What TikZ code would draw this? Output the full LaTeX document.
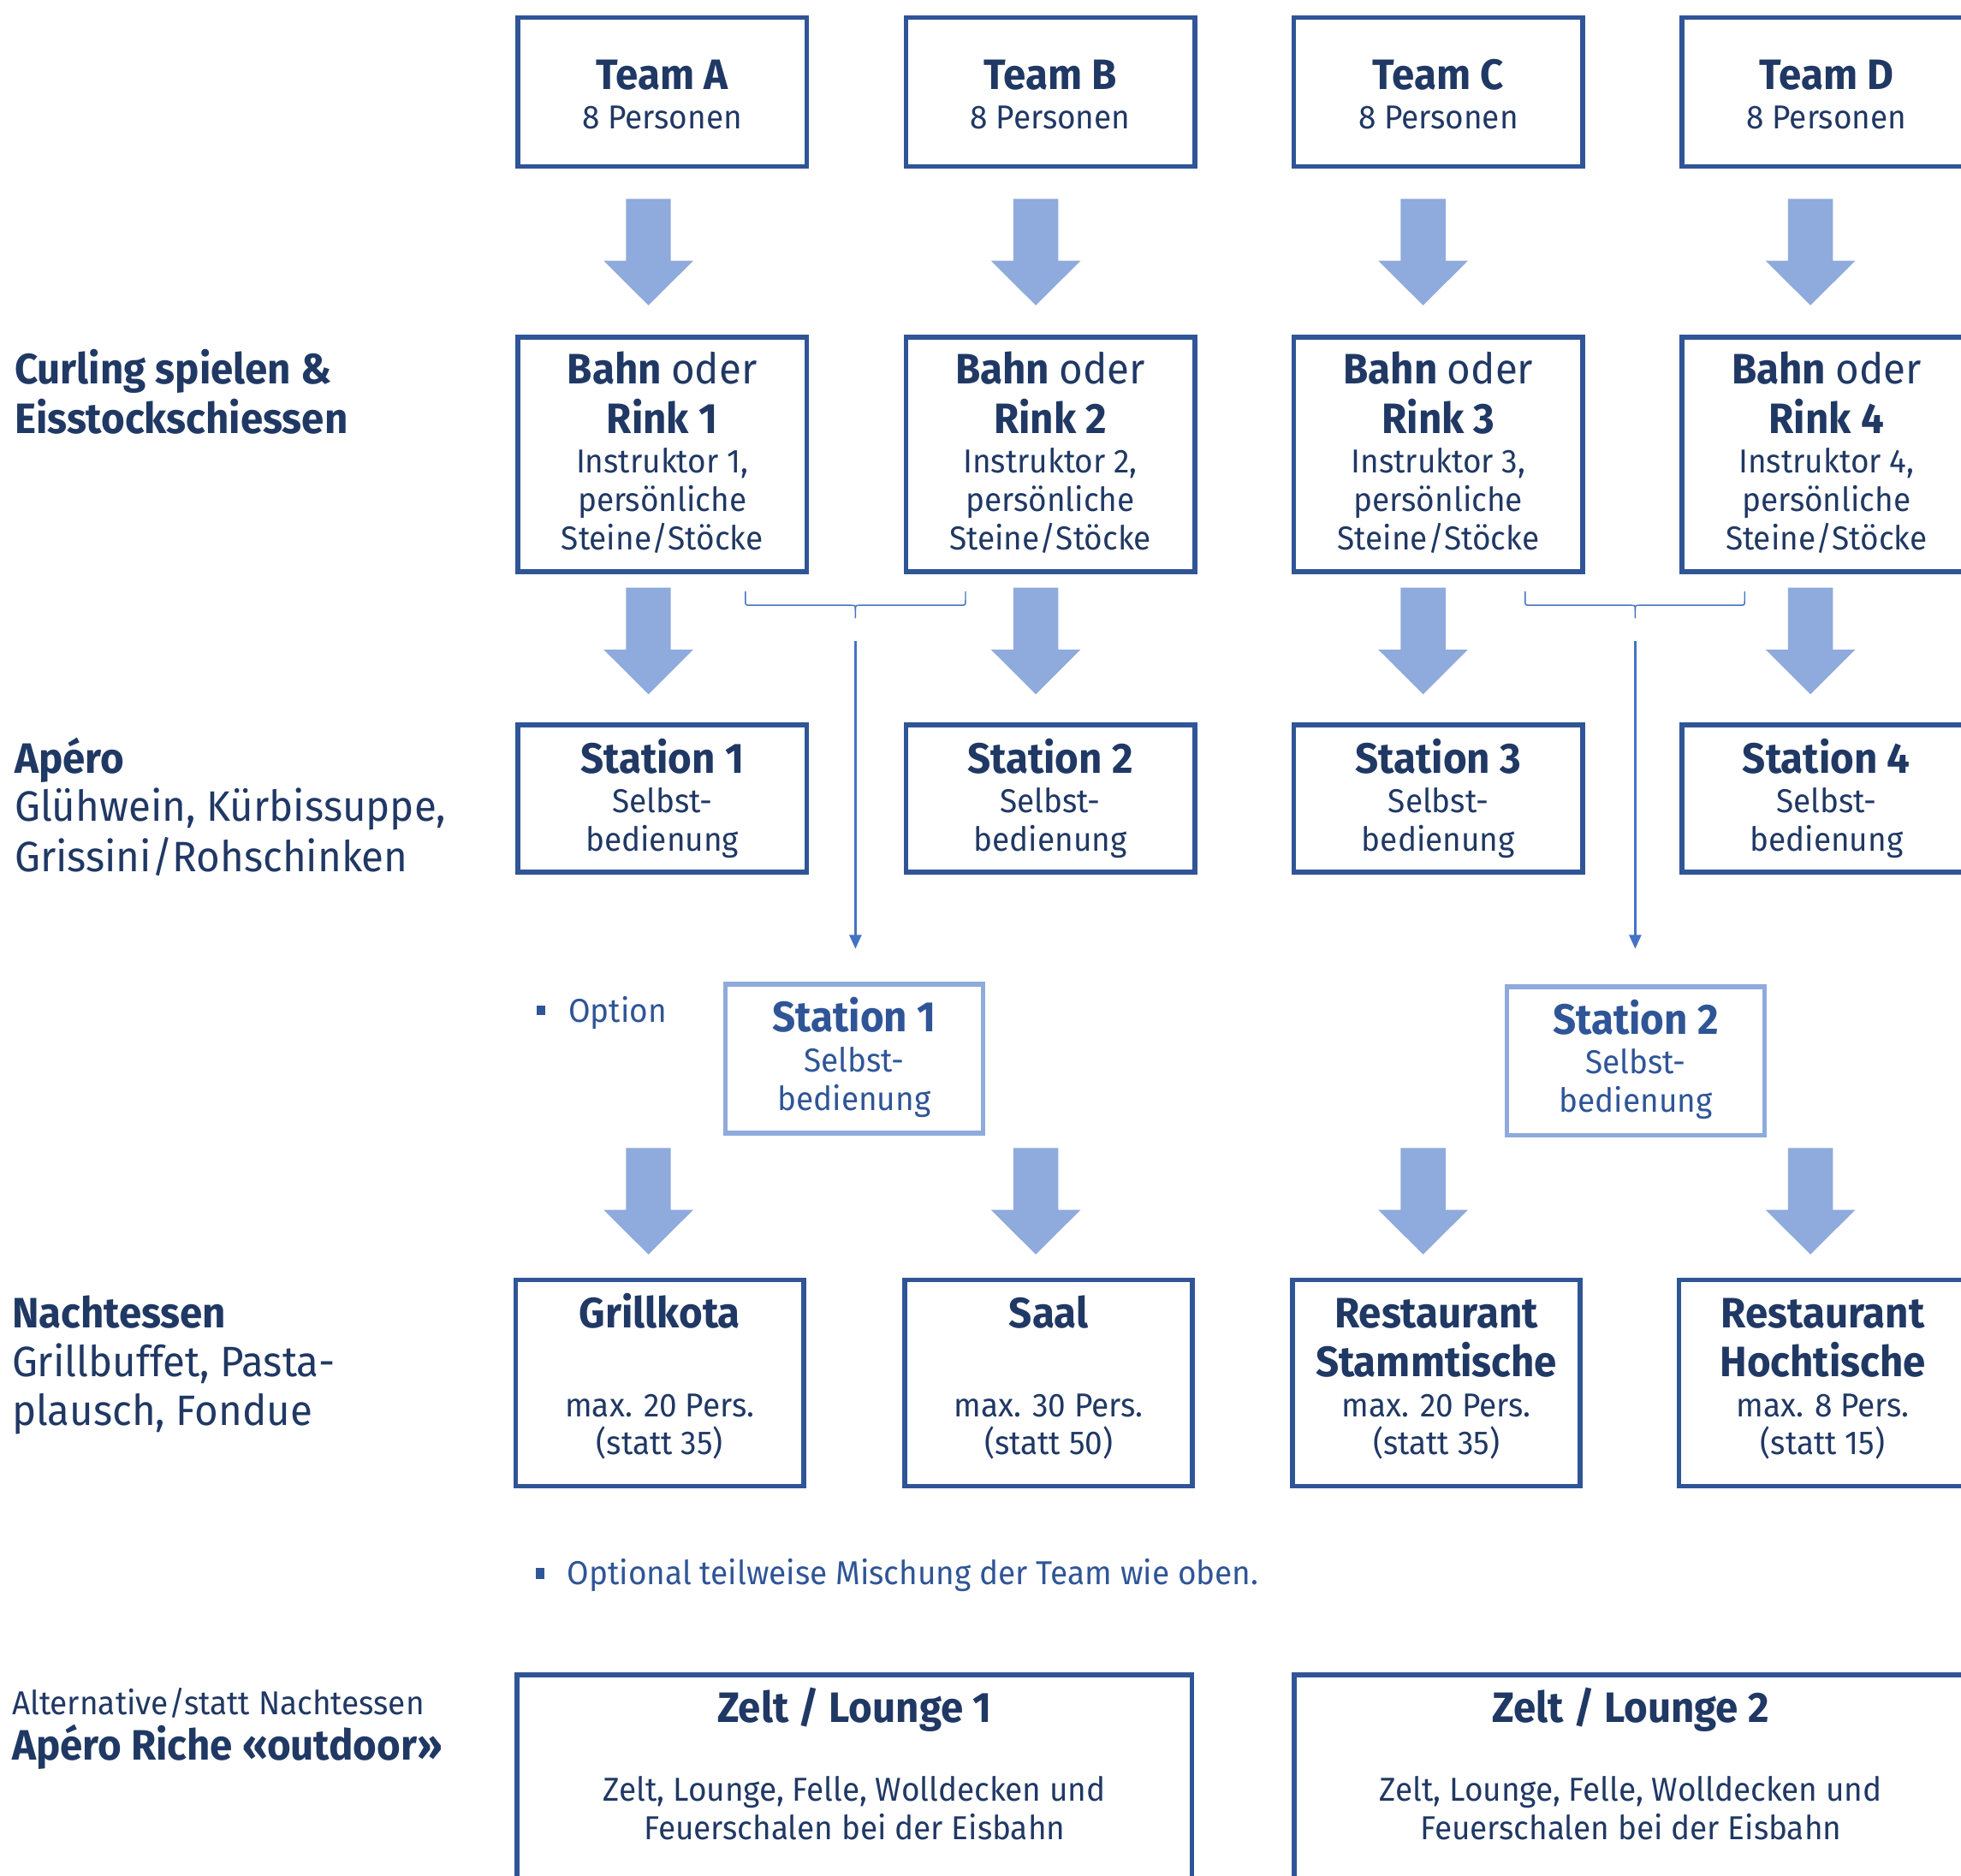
\documentclass[tikz,border=0pt]{standalone}
\usepackage{fontspec}
\setmainfont{Fira Sans}[FakeStretch=0.955]
\usetikzlibrary{arrows.meta}
\definecolor{navy}{HTML}{203864}
\definecolor{boxblue}{HTML}{2F5597}
\definecolor{arrowfill}{HTML}{8FAADC}
\definecolor{linkblue}{HTML}{4472C4}
\newcommand\BigTxt{\fontsize{34}{40}\selectfont\bfseries}
\newcommand\BigReg{\fontsize{34}{40}\selectfont}
\newcommand\SmallTxt{\fontsize{26.5}{31}\selectfont}
\begin{document}
\begin{tikzpicture}[x=1pt,y=-1pt,
  box/.style={draw=boxblue,line width=3.8pt,inner sep=0pt},
  optbox/.style={draw=arrowfill,line width=3.8pt,minimum width=206pt,minimum height=119pt,inner sep=0pt},
  T/.style={inner sep=0pt,anchor=base,text=navy,font=\BigTxt},
  S/.style={inner sep=0pt,anchor=base,text=navy,font=\SmallTxt},
  OT/.style={T,text=boxblue},
  OS/.style={S,text=boxblue},
  LT/.style={inner sep=0pt,anchor=base west,text=navy,font=\BigTxt},
  LR/.style={inner sep=0pt,anchor=base west,text=navy,font=\BigReg},
  LS/.style={inner sep=0pt,anchor=base west,text=navy,font=\SmallTxt},
  bracket/.style={draw=linkblue,line width=1pt},
  thinarrow/.style={draw=linkblue,line width=1.5pt,-{Triangle[length=11pt,width=9.6pt]}},
  blockarrow/.pic={\fill[arrowfill] (-17.9,0) -- (17.9,0) -- (17.9,49.5) -- (35.8,49.5) -- (0,85.2) -- (-35.8,49.5) -- (-17.9,49.5) -- cycle;}
]
\useasboundingbox (0,0) rectangle (1568,1500.2);
\clip (0,0) rectangle (1568,1500.2);

% left labels
\node[LT] (l1a) at (11.5,307) {Curling spielen \&};
\node[LT] (l1b) at (11.5,346.8) {Eisstockschiessen};
\node[LT] (l2a) at (11.5,618.1) {Apéro};
\node[LR] (l2b) at (11.5,656.6) {Glühwein, Kürbissuppe,};
\node[LR] (l2c) at (11.5,697) {Grissini/Rohschinken};
\node[LT] (l3a) at (9.4,1061.8) {Nachtessen};
\node[LR] (l3b) at (9.4,1101.1) {Grillbuffet, Pasta-};
\node[LR] (l3c) at (9.4,1140.1) {plausch, Fondue};
\node[LS] (l4a) at (9.4,1371.3) {Alternative/statt Nachtessen};
\node[LT] (l4b) at (9.4,1407.5) {Apéro Riche «outdoor»};

% columns
\foreach \L/\n in {A/1,B/2,C/3,D/4}{
  \pgfmathsetmacro\cx{529.5+310.3*(\n-1)}
  \pgfmathsetmacro\ax{518.5+309.7*(\n-1)}
  \node[box,minimum width=231pt,minimum height=119pt] (team\L) at (\cx,73.5) {};
  \node[T] (team\L-t) at (\cx,71.8) {Team \L};
  \node[S] (team\L-s) at (\cx,103.3) {8 Personen};
  \pic at (\ax,159) {blockarrow};
  \node[box,minimum width=231pt,minimum height=187.5pt] (bahn\L) at (\cx,363.25) {};
  \node[T] (bahn\L-a) at (\cx,307) {Bahn \textmd{oder}};
  \node[T] (bahn\L-b) at (\cx,346.8) {Rink \n};
  \node[S] (bahn\L-c) at (\cx,378.2) {Instruktor \n,};
  \node[S] (bahn\L-d) at (\cx,408.8) {persönliche};
  \node[S] (bahn\L-e) at (\cx,440) {Steine/Stöcke};
  \pic at (\ax,470) {blockarrow};
  \node[box,minimum width=231pt,minimum height=118pt] (stat\L) at (\cx,638.5) {};
  \node[T] (stat\L-a) at (\cx,618.1) {Station \n};
  \node[S] (stat\L-b) at (\cx,649.6) {Selbst-};
  \node[S] (stat\L-c) at (\cx,680.7) {bedienung};
  \pic at (\ax,918) {blockarrow};
}

% brackets and thin arrows
\draw[bracket] (596,473) -- (596,480) .. controls (596,484) .. (600,484) -- (680,484) .. controls (684,484) .. (684,488) -- (684,494.4);
\draw[bracket] (684,488) .. controls (684,484) .. (688,484) -- (768,484) .. controls (772,484) .. (772,480) -- (772,473);
\draw[bracket] (1219.5,473) -- (1219.5,480) .. controls (1219.5,484) .. (1223.5,484) -- (1303.5,484) .. controls (1307.5,484) .. (1307.5,488) -- (1307.5,494.4);
\draw[bracket] (1307.5,488) .. controls (1307.5,484) .. (1311.5,484) -- (1391,484) .. controls (1395,484) .. (1395,480) -- (1395,473);
\coordinate (brL) at (684,512.6);
\coordinate (brLend) at (684,758.7);
\coordinate (brR) at (1307.5,512.6);
\coordinate (brRend) at (1307.5,758.7);
\draw[thinarrow] (brL) -- (brLend);
\draw[thinarrow] (brR) -- (brRend);

% option row
\fill[boxblue] (429,804) rectangle (436,811.5);
\node[inner sep=0pt,anchor=base west,text=boxblue,font=\SmallTxt] (opt) at (454.5,817.6) {Option};
\node[optbox] (opt1) at (683,846.5) {};
\node[OT] (opt1-a) at (683,825.3) {Station 1};
\node[OS] (opt1-b) at (683,857.4) {Selbst-};
\node[OS] (opt1-c) at (683,887.9) {bedienung};
\node[optbox] (opt2) at (1308,848.5) {};
\node[OT] (opt2-a) at (1308,826.8) {Station 2};
\node[OS] (opt2-b) at (1308,858.9) {Selbst-};
\node[OS] (opt2-c) at (1308,889.5) {bedienung};

% dinner row
\node[box,minimum width=230pt,minimum height=165pt] (grill) at (527.5,1106) {};
\node[T] (grill-a) at (527.5,1061.8) {Grillkota};
\node[S] (grill-b) at (527.5,1133) {max. 20 Pers.};
\node[S] (grill-c) at (527.5,1163.4) {(statt 35)};
\node[box,minimum width=230pt,minimum height=165pt] (saal) at (838.5,1106) {};
\node[T] (saal-a) at (838.5,1061.8) {Saal};
\node[S] (saal-b) at (838.5,1133) {max. 30 Pers.};
\node[S] (saal-c) at (838.5,1163.4) {(statt 50)};
\node[box,minimum width=230pt,minimum height=165pt] (rest1) at (1148.5,1106) {};
\node[T] (rest1-a) at (1148.5,1061.8) {Restaurant};
\node[T] (rest1-b) at (1148.5,1101.1) {Stammtische};
\node[S] (rest1-c) at (1148.5,1133) {max. 20 Pers.};
\node[S] (rest1-d) at (1148.5,1163.4) {(statt 35)};
\node[box,minimum width=230pt,minimum height=165pt] (rest2) at (1457.5,1106) {};
\node[T] (rest2-a) at (1457.5,1061.8) {Restaurant};
\node[T] (rest2-b) at (1457.5,1101.1) {Hochtische};
\node[S] (rest2-c) at (1457.5,1133) {max. 8 Pers.};
\node[S] (rest2-d) at (1457.5,1163.4) {(statt 15)};

% note
\fill[boxblue] (428.3,1254) rectangle (435.1,1262.7);
\node[inner sep=0pt,anchor=base west,text=boxblue,font=\SmallTxt] (note) at (453.5,1267.4) {Optional teilweise Mischung der Team wie oben.};

% tents
\node[box,minimum width=539.5pt,minimum height=300pt] (zelt1) at (683.25,1489.5) {};
\node[T] (zelt1-a) at (683.25,1377.5) {Zelt / Lounge 1};
\node[S] (zelt1-b) at (683.25,1440.6) {Zelt, Lounge, Felle, Wolldecken und};
\node[S] (zelt1-c) at (683.25,1471) {Feuerschalen bei der Eisbahn};
\node[box,minimum width=538pt,minimum height=300pt] (zelt2) at (1304,1489.5) {};
\node[T] (zelt2-a) at (1304,1377.5) {Zelt / Lounge 2};
\node[S] (zelt2-b) at (1304,1440.6) {Zelt, Lounge, Felle, Wolldecken und};
\node[S] (zelt2-c) at (1304,1471) {Feuerschalen bei der Eisbahn};
\end{tikzpicture}
\end{document}
